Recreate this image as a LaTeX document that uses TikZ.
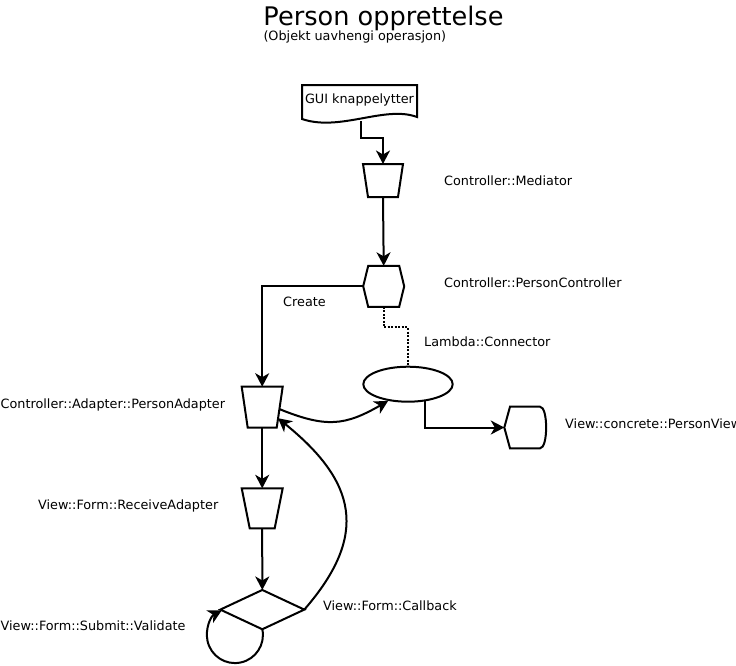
\documentclass[tikz,border=0pt]{standalone}
\usepackage{fontspec}
\setmainfont{DejaVu Sans}
\usetikzlibrary{arrows.meta,shapes.geometric,calc}
\begin{document}
\begin{tikzpicture}[x=1pt,y=-1pt,
  ln/.style={line width=2pt},
  arr/.style={-{Stealth[length=13.5pt,width=14pt,inset=4pt]}},
  dots/.style={line width=1.8pt,dash pattern=on 2pt off 1.5pt},
  shp/.style={inner sep=0pt,outer sep=0pt},
  lblfont/.style={font=\fontsize{12.8pt}{15pt}\selectfont},
  lbl/.style={lblfont,anchor=base west,inner sep=0pt},
]
\useasboundingbox (0,0) rectangle (736,665);
% titles
\node[anchor=base,inner sep=0pt,font=\fontsize{25.6pt}{30pt}\selectfont] (title) at (383.5,25) {Person opprettelse};
\node[lbl] (sub) at (263.3,40) {(Objekt uavhengi operasjon)};

% document shape
\node[shp,lblfont,minimum width=115pt,minimum height=29pt] (gui) at (359.5,99.5) {GUI knappelytter};
\draw[ln] ([yshift=-5pt]gui.south west) -- (gui.north west) -- (gui.north east) -- ([yshift=-3pt]gui.south east)
  .. controls ($(gui.south east)+(-32,-9)$) and ($(gui.south west)+(38,18)$) .. ([yshift=-5pt]gui.south west) -- cycle;

% mediator trapezoid
\node[shp,minimum width=40pt,minimum height=33pt] (med) at (383,180.5) {};
\draw[ln] (med.north west) -- (med.north east) -- ([xshift=-5pt]med.south east) -- ([xshift=5pt]med.south west) -- cycle;

% person controller hexagon
\node[shp,minimum width=41pt,minimum height=41pt] (hex) at (383.7,286.3) {};
\draw[ln] (hex.west) -- ([xshift=5pt]hex.north west) -- ([xshift=-5pt]hex.north east) -- (hex.east)
  -- ([xshift=-5pt]hex.south east) -- ([xshift=5pt]hex.south west) -- cycle;

% lambda connector ellipse
\node[ellipse,draw,ln,inner sep=0pt,minimum width=89.4pt,minimum height=35pt] (ell) at (408,384.2) {};

% person view display shape
\node[shp,minimum width=41.4pt,minimum height=41.6pt] (pv) at (525,427.5) {};
\draw[ln] (pv.west) -- ([xshift=5.7pt]pv.north west) -- ([xshift=-5.7pt]pv.north east)
  .. controls ([xshift=2.5pt]pv.north east) and ([xshift=2.5pt]pv.south east) .. ([xshift=-5.7pt]pv.south east)
  -- ([xshift=5.7pt]pv.south west) -- cycle;

% person adapter trapezoid
\node[shp,minimum width=41pt,minimum height=41pt] (ad) at (262.2,407.2) {};
\draw[ln] (ad.north west) -- (ad.north east) -- ([xshift=-6pt]ad.south east) -- ([xshift=6pt]ad.south west) -- cycle;

% receive adapter trapezoid
\node[shp,minimum width=41pt,minimum height=40pt] (ra) at (262.2,508.3) {};
\draw[ln] (ra.north west) -- (ra.north east) -- ([xshift=-8pt]ra.south east) -- ([xshift=8pt]ra.south west) -- cycle;

% validate diamond
\node[shp,minimum width=84pt,minimum height=39.3pt] (dia) at (262.3,609.6) {};
\draw[ln] (dia.north) -- (dia.east) -- (dia.south) -- (dia.west) -- cycle;

% labels
\node[lbl] (lmed) at (444,185.6) {Controller::Mediator};
\node[lbl] (lhex) at (444,287.6) {Controller::PersonController};
\node[lbl] (lcre) at (283,306.6) {Create};
\node[lbl] (lell) at (424,346.6) {Lambda::Connector};
\node[lbl] (lpv) at (565,428.3) {View::concrete::PersonView};
\node[lbl] (lad) at (0.5,408.6) {Controller::Adapter::PersonAdapter};
\node[lbl] (lra) at (38,509.6) {View::Form::ReceiveAdapter};
\node[lbl] (lcb) at (323,610.3) {View::Form::Callback};
\node[lbl] (lval) at (0.5,630.6) {View::Form::Submit::Validate};

% connectors
\draw[ln,arr] ([xshift=1.5pt,yshift=-7pt]gui.south) -- ++(0,17) -| (med.north);
\draw[ln,arr] (med.south) -- (hex.north);
\draw[ln,arr] (hex.west) -| (ad.north);
\draw[dots] (hex.south) -- ++(0,20.5) -| (ell.north);
\draw[ln,arr] (ell.-45) |- (pv.west);
\draw[ln,arr] ($(ad.east)+(-3,2)$) to[out=-22,in=-150,distance=50pt] (ell.-140);
\draw[ln,arr] (ad.south) -- (ra.north);
\draw[ln,arr] (ra.south) -- (dia.north);
\draw[ln,arr] (dia.east) to[out=49,in=-39,distance=100pt] ($(ad.east)+(-4.7,11)$);
\draw[ln,arr] (dia.south) arc[start angle=12,end angle=-242,radius=28pt];
\end{tikzpicture}
\end{document}
